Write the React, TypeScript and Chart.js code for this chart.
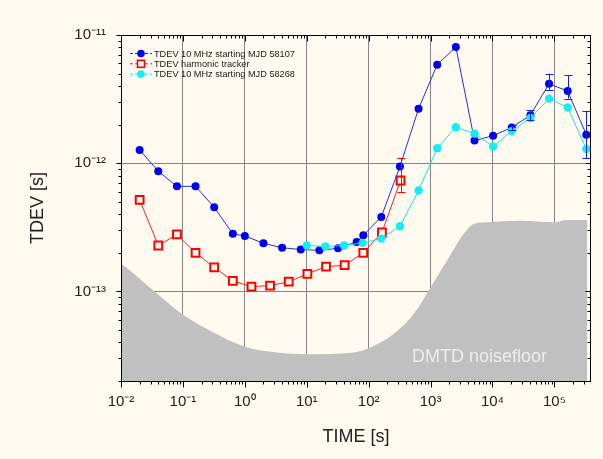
import React, { useEffect, useRef } from 'react';
import { Chart, registerables } from 'chart.js';

Chart.register(...registerables);

// ---- data ----
const blueX = [0.02, 0.04, 0.08, 0.16, 0.32, 0.64, 1, 2, 4, 8, 16, 32, 64, 82, 160, 320, 640, 1280, 2560, 5120, 10240, 20480, 40960, 81920, 163840, 327680];
const blueY = [1.27e-12, 8.66e-13, 6.6e-13, 6.6e-13, 4.53e-13, 2.81e-13, 2.71e-13, 2.37e-13, 2.19e-13, 2.12e-13, 2.09e-13, 2.17e-13, 2.43e-13, 2.74e-13, 3.81e-13, 9.42e-13, 2.66e-12, 5.87e-12, 8.06e-12, 1.5e-12, 1.64e-12, 1.9e-12, 2.37e-12, 4.17e-12, 3.65e-12, 1.67e-12];

const redX = [0.02, 0.04, 0.08, 0.16, 0.32, 0.64, 1.28, 2.56, 5.12, 10.24, 20.48, 40.96, 81.92, 163.84, 327.68];
const redY = [5.18e-13, 2.28e-13, 2.78e-13, 2.0e-13, 1.54e-13, 1.21e-13, 1.09e-13, 1.11e-13, 1.19e-13, 1.37e-13, 1.56e-13, 1.6e-13, 2.0e-13, 2.88e-13, 7.33e-13];

const cyanX = [10, 20, 40, 80, 160, 320, 640, 1280, 2560, 5120, 10240, 20480, 40960, 81920, 163840, 327680];
const cyanY = [2.28e-13, 2.24e-13, 2.28e-13, 2.39e-13, 2.58e-13, 3.22e-13, 6.12e-13, 1.31e-12, 1.91e-12, 1.7e-12, 1.35e-12, 1.78e-12, 2.25e-12, 3.19e-12, 2.72e-12, 1.29e-12];

const noiseX = [0.01, 0.0141, 0.0337, 0.0966, 0.277, 1.01, 3.31, 10.1, 57.3, 106, 253, 533, 993, 1849, 3430, 4970, 8180, 28200, 97500, 160000, 337000];
const noiseY = [1.64e-13, 1.45e-13, 1.01e-13, 6.65e-14, 4.93e-14, 3.7e-14, 3.34e-14, 3.24e-14, 3.34e-14, 3.65e-14, 4.65e-14, 6.65e-14, 1.07e-13, 1.74e-13, 2.81e-13, 3.36e-13, 3.46e-13, 3.56e-13, 3.46e-13, 3.61e-13, 3.61e-13];

const blueErrX = [20480, 40960, 81920, 163840, 327680];
const blueErrLow = [1.8e-12, 2.18e-12, 3.74e-12, 3.19e-12, 1.1e-12];
const blueErrHigh = [2.0e-12, 2.58e-12, 4.99e-12, 4.87e-12, 2.55e-12];
const redErrX = [327.68];
const redErrLow = [6.0e-13];
const redErrHigh = [1.09e-12];

const xMin = 0.01;
const xMax = 3.9e5;
const yMin = 2e-14;
const yMax = 1e-11;

const labelBlue = 'TDEV 10 MHz starting MJD 58107';
const labelRed = 'TDEV harmonic tracker';
const labelCyan = 'TDEV 10 MHz starting MJD 58268';
const noiseText = 'DMTD noisefloor';
const xTitle = 'TIME [s]';
const yTitle = 'TDEV [s]';

const BG = '#fffaf0';
const FONT = '"Liberation Sans", Arial, sans-serif';

const SUP: Record<string, string> = { '-': '\u207B', '0': '\u2070', '1': '\u00B9', '2': '\u00B2', '3': '\u00B3', '4': '\u2074', '5': '\u2075', '6': '\u2076', '7': '\u2077', '8': '\u2078', '9': '\u2079' };
const sup = (n: number) => String(n).split('').map((c) => SUP[c] || c).join('');
const isDecade = (v: number) => {
  const l = Math.log10(v);
  return Math.abs(l - Math.round(l)) < 1e-6;
};
const decLabel = (v: any) => {
  const n = Number(v);
  return isDecade(n) ? '10' + sup(Math.round(Math.log10(n))) : '';
};

const pts = (xs: number[], ys: number[]) => xs.map((x, i) => ({ x, y: ys[i] }));

const decorPlugin = {
  id: 'decor',
  afterDatasetsDraw(chart: any) {
    const ctx = chart.ctx;
    const xs = chart.scales.x;
    const ys = chart.scales.y;
    const { left, right, top, bottom } = chart.chartArea;

    ctx.save();
    // noise floor text
    ctx.font = `18px ${FONT}`;
    ctx.fillStyle = '#ededed';
    ctx.textAlign = 'left';
    ctx.textBaseline = 'middle';
    ctx.fillText(noiseText, 412, 357);

    // error bars
    const drawErr = (ex: number[], lo: number[], hi: number[], color: string) => {
      ctx.strokeStyle = color;
      ctx.lineWidth = 1;
      ex.forEach((x, i) => {
        const px = Math.round(xs.getPixelForValue(x)) + 0.5;
        const y1 = ys.getPixelForValue(lo[i]);
        const y2 = ys.getPixelForValue(hi[i]);
        ctx.beginPath();
        ctx.moveTo(px, y1);
        ctx.lineTo(px, y2);
        ctx.moveTo(px - 4, Math.round(y1) + 0.5);
        ctx.lineTo(px + 4, Math.round(y1) + 0.5);
        ctx.moveTo(px - 4, Math.round(y2) + 0.5);
        ctx.lineTo(px + 4, Math.round(y2) + 0.5);
        ctx.stroke();
      });
    };
    drawErr(blueErrX, blueErrLow, blueErrHigh, '#1020e0');
    drawErr(redErrX, redErrLow, redErrHigh, '#ff0000');

    // frame
    ctx.strokeStyle = '#000';
    ctx.lineWidth = 1;
    const L = Math.round(left) + 0.5;
    const R = Math.round(right) - 0.5;
    const T = Math.round(top) + 0.5;
    const B = Math.round(bottom) + 0.5;
    ctx.strokeRect(L, T, R - L, B - T);

    // ticks
    ctx.beginPath();
    for (let d = -2; d <= 5; d++) {
      for (let m = 1; m <= 9; m++) {
        const v = m * Math.pow(10, d);
        if (v < xMin * 0.999 || v > xMax) continue;
        const px = Math.round(xs.getPixelForValue(v)) + 0.5;
        const len = m === 1 ? 6 : 3;
        ctx.moveTo(px, B);
        ctx.lineTo(px, B + len);
        ctx.moveTo(px, T);
        ctx.lineTo(px, T + len);
      }
    }
    for (let d = -14; d <= -11; d++) {
      for (let m = 1; m <= 9; m++) {
        const v = m * Math.pow(10, d);
        if (v < yMin * 0.999 || v > yMax * 1.001) continue;
        const py = Math.round(ys.getPixelForValue(v)) + 0.5;
        const len = m === 1 ? 5 : 3;
        ctx.moveTo(L, py);
        ctx.lineTo(L - len, py);
        ctx.moveTo(R, py);
        ctx.lineTo(R - len, py);
      }
    }
    ctx.stroke();

    // legend
    const items = chart.data.datasets.filter((d: any) => d.showInLegend);
    items.forEach((d: any, i: number) => {
      const y = 53.5 + i * 10.3;
      ctx.strokeStyle = d.borderColor;
      ctx.lineWidth = 1;
      ctx.setLineDash([3, 2]);
      ctx.beginPath();
      ctx.moveTo(130, y);
      ctx.lineTo(152, y);
      ctx.stroke();
      ctx.setLineDash([]);
      if (d.pointStyle === 'rect') {
        ctx.fillStyle = BG;
        ctx.fillRect(137.5, y - 3.5, 7, 7);
        ctx.strokeStyle = d.pointBorderColor;
        ctx.lineWidth = 1.6;
        ctx.strokeRect(137.5, y - 3.5, 7, 7);
      } else {
        ctx.fillStyle = d.pointBackgroundColor;
        ctx.beginPath();
        ctx.arc(141, y, 3.8, 0, Math.PI * 2);
        ctx.fill();
      }
      ctx.fillStyle = '#1a1a1a';
      ctx.font = `9.2px ${FONT}`;
      ctx.textAlign = 'left';
      ctx.textBaseline = 'middle';
      ctx.fillText(d.label, 154, y + 0.5);
    });
    ctx.restore();
  },
};

export default function App() {
  const ref = useRef<HTMLCanvasElement | null>(null);

  useEffect(() => {
    if (!ref.current) return;
    const chart = new Chart(ref.current, {
      type: 'line',
      data: {
        datasets: [
          {
            label: labelBlue,
            data: pts(blueX, blueY),
            borderColor: '#2030e0',
            borderWidth: 1,
            pointStyle: 'circle',
            pointRadius: 4,
            pointBackgroundColor: '#0000f0',
            pointBorderColor: '#0000f0',
            pointBorderWidth: 0,
            fill: false,
            order: 2,
            showInLegend: true,
          } as any,
          {
            label: labelRed,
            data: pts(redX, redY),
            borderColor: '#ff2020',
            borderWidth: 1,
            pointStyle: 'rect',
            pointRadius: 5.5,
            pointBorderWidth: 2,
            pointBorderColor: '#ff0000',
            pointBackgroundColor: BG,
            fill: false,
            order: 3,
            showInLegend: true,
          } as any,
          {
            label: labelCyan,
            data: pts(cyanX, cyanY),
            borderColor: '#10e6ee',
            borderWidth: 1,
            pointStyle: 'circle',
            pointRadius: 4.2,
            pointBackgroundColor: '#12eef2',
            pointBorderColor: '#12eef2',
            pointBorderWidth: 0,
            fill: false,
            order: 1,
            showInLegend: true,
          } as any,
          {
            label: noiseText,
            data: pts(noiseX, noiseY),
            borderColor: 'rgba(0,0,0,0)',
            borderWidth: 0,
            backgroundColor: '#c0c0c0',
            pointRadius: 0,
            fill: 'start',
            cubicInterpolationMode: 'monotone',
            order: 10,
          } as any,
        ],
      },
      options: {
        responsive: false,
        devicePixelRatio: 1,
        animation: false,
        layout: { padding: { top: 35, right: 12, left: 0, bottom: 0 } },
        elements: { line: { tension: 0 } },
        plugins: {
          legend: { display: false },
          tooltip: { enabled: false },
        },
        scales: {
          x: {
            type: 'logarithmic',
            min: xMin,
            max: xMax,
            border: { display: false },
            grid: {
              drawTicks: false,
              lineWidth: 1,
              color: (c: any) => (c.tick && isDecade(c.tick.value) && c.tick.value > xMin * 1.01 ? '#858585' : 'rgba(0,0,0,0)'),
            },
            ticks: {
              autoSkip: false,
              maxRotation: 0,
              padding: 12,
              color: '#222',
              font: { size: 15, family: FONT },
              callback: (v: any) => decLabel(v),
            },
            title: {
              display: true,
              text: xTitle,
              color: '#222',
              font: { size: 18, family: FONT },
              padding: { top: 0, bottom: 11 },
            },
            afterFit: (s: any) => {
              s.height = 78;
              s.paddingLeft = 0;
              s.paddingRight = 0;
            },
          },
          y: {
            type: 'logarithmic',
            min: yMin,
            max: yMax,
            border: { display: false },
            grid: {
              drawTicks: false,
              lineWidth: 1,
              color: (c: any) => (c.tick && isDecade(c.tick.value) && c.tick.value < yMax * 0.99 ? '#858585' : 'rgba(0,0,0,0)'),
            },
            ticks: {
              autoSkip: false,
              padding: 15,
              color: '#222',
              font: { size: 15, family: FONT },
              callback: (v: any) => decLabel(v),
            },
            title: {
              display: true,
              text: yTitle,
              color: '#222',
              font: { size: 18, family: FONT },
              padding: { top: 27, bottom: 0 },
            },
            afterFit: (s: any) => {
              s.width = 121;
              s.paddingTop = 0;
              s.paddingBottom = 0;
            },
          },
        },
      } as any,
      plugins: [decorPlugin],
    });
    return () => chart.destroy();
  }, []);

  return (
    <div style={{ position: 'fixed', left: 0, top: 0, width: 603, height: 459, background: BG }}>
      <canvas ref={ref} width={603} height={459} style={{ display: 'block' }} />
    </div>
  );
}
